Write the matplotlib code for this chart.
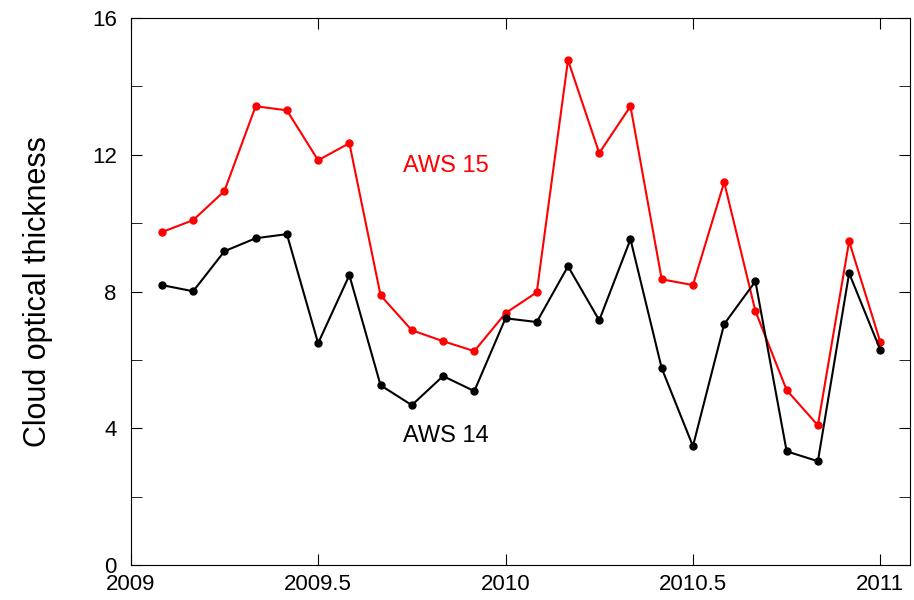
import matplotlib
matplotlib.use('Agg')
import matplotlib.pyplot as plt
import numpy as np
from matplotlib.ticker import MultipleLocator

plt.rcParams['font.family'] = ['Liberation Sans', 'DejaVu Sans']

months = 2009 + np.arange(1, 25) / 12.0
aws15 = [9.74, 10.09, 10.94, 13.42, 13.30, 11.84, 12.34, 7.89, 6.87, 6.55, 6.26, 7.37,
         7.98, 14.77, 12.05, 13.42, 8.36, 8.19, 11.2, 7.43, 5.12, 4.09, 9.47, 6.52]
aws14 = [8.19, 8.01, 9.18, 9.56, 9.68, 6.49, 8.48, 5.26, 4.68, 5.53, 5.09, 7.22,
         7.11, 8.74, 7.16, 9.53, 5.76, 3.48, 7.05, 8.30, 3.33, 3.04, 8.54, 6.29]

fig = plt.figure(figsize=(9.14, 6.0), dpi=100)
ax = fig.add_axes([0.143, 0.058, 0.853, 0.912])
ax.plot(months, aws15, '-o', color='red', ms=5, lw=1.5)
ax.plot(months, aws14, '-o', color='black', ms=5, lw=1.5)
ax.set_xlim(2009, 2011.08)
ax.set_ylim(0, 16)
ax.set_xticks([2009, 2009.5, 2010, 2010.5, 2011])
ax.set_xticklabels(['2009', '2009.5', '2010', '2010.5', '2011'])
ax.set_yticks([0, 4, 8, 12, 16])
ax.yaxis.set_minor_locator(MultipleLocator(2))
ax.tick_params(which='both', direction='in', top=True, right=True, labelsize=16)
ax.tick_params(which='major', length=8)
ax.tick_params(which='minor', length=8)
ax.tick_params(axis='y', pad=10)
ax.tick_params(axis='x', pad=6)
ax.set_ylabel('Cloud optical thickness', fontsize=22, labelpad=28)
ax.text(2009.84, 11.5, 'AWS 15', color='red', fontsize=17, ha='center')
ax.text(2009.84, 3.6, 'AWS 14', color='black', fontsize=17, ha='center')
fig.savefig('out.png')
